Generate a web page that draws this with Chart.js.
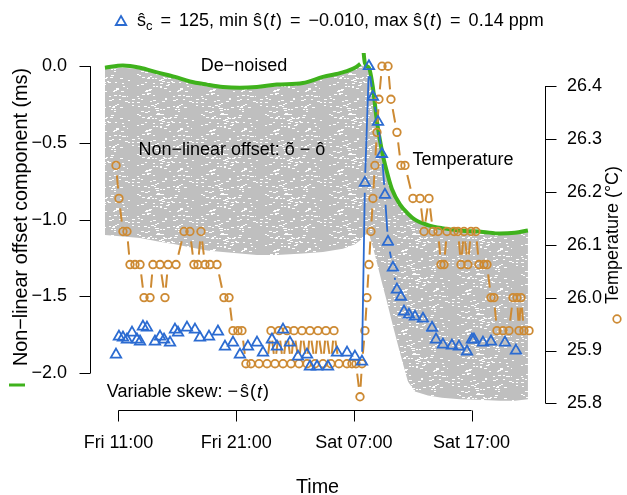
<!DOCTYPE html>
<html>
<head>
<meta charset="utf-8">
<script src="https://cdn.jsdelivr.net/npm/chart.js@4.4.0/dist/chart.umd.min.js"></script>
<style>
  html, body { margin: 0; padding: 0; background: #fff; }
  #wrap { width: 627px; height: 495px; }
</style>
</head>
<body>
<div id="wrap"><canvas id="chart" width="627" height="495"></canvas></div>
<script>
// Time is in hours from Fri 00:00
const timeTicks = [11, 21, 31, 41];
const timeLabels = ['Fri 11:00', 'Fri 21:00', 'Sat 07:00', 'Sat 17:00'];
const offsetTicks = [0, -0.5, -1, -1.5, -2];
const offsetLabels = ['0.0', '\u22120.5', '\u22121.0', '\u22121.5', '\u22122.0'];
const tempTicks = [25.8, 25.9, 26.0, 26.1, 26.2, 26.3, 26.4];
const tempLabels = ['25.8', '25.9', '26.0', '26.1', '26.2', '26.3', '26.4'];

// De-noised offset (ms); null splits the line at the jump
const deNoisedHours = [9.85, 11.38, 12.83, 14.27, 15.80, 17.07, 18.52, 19.88, 21.32, 22.76,
  24.46, 26.67, 28.37, 30.07, 31.09, 31.55, 31.60,
  31.62, 31.94, 32.28, 32.62, 32.96, 33.38, 33.81, 34.23, 34.91, 35.59,
  36.19, 37.29, 38.48, 40.01, 41.97, 43.41, 44.69, 45.79];
const deNoisedValues = [-0.01, 0.005, -0.01, -0.04, -0.07, -0.10, -0.12, -0.135, -0.14, -0.135,
  -0.12, -0.11, -0.07, -0.04, -0.01, 0.015, null,
  0.3, 0.02, -0.01, -0.14, -0.36, -0.55, -0.69, -0.80, -0.90, -0.96,
  -1.00, -1.035, -1.055, -1.07, -1.08, -1.09, -1.085, -1.07];

// Envelope of the noisy non-linear offset cloud (ms)
const cloudHours = [9.85, 11.38, 12.83, 14.27, 15.80, 17.07, 18.52, 19.88, 21.32, 22.76,
  24.46, 26.67, 28.37, 30.07, 31.09, 31.60, 31.94, 32.28, 32.62, 32.96,
  33.38, 33.81, 34.23, 34.91, 35.59, 36.19, 37.29, 38.48, 40.01, 41.97,
  43.41, 44.69, 45.79];
const cloudTop = [-0.02, -0.01, -0.02, -0.05, -0.08, -0.11, -0.13, -0.145, -0.15, -0.145,
  -0.13, -0.12, -0.08, -0.05, -0.02, 0.005, 0.0, -0.03, -0.15, -0.37,
  -0.56, -0.70, -0.81, -0.91, -0.97, -1.01, -1.045, -1.065, -1.08, -1.09,
  -1.10, -1.095, -1.08];
const cloudBottom = [-1.10, -1.11, -1.12, -1.14, -1.16, -1.18, -1.20, -1.21, -1.22, -1.23,
  -1.23, -1.22, -1.21, -1.19, -1.16, -1.13, -1.10, -1.09, -1.18, -1.28,
  -1.41, -1.535, -1.665, -1.865, -2.055, -2.12, -2.145, -2.16, -2.17, -2.175,
  -2.18, -2.18, -2.17];

// Variable skew -s(t), drawn on the offset axis
const skewHours = [10.79, 11.04, 11.38, 11.72, 12.15, 12.57, 12.83, 13.08, 13.42, 14.10,
  14.53, 14.87, 15.38, 15.80, 16.06, 16.82, 17.50, 17.92, 18.69, 19.45,
  20.05, 20.73, 21.32, 22.00, 22.77, 23.28, 24.04, 24.47, 24.98, 25.57,
  26.25, 27.02, 27.27, 27.87, 28.80, 29.57, 30.42, 31.09, 31.69,
  31.94, 32.28, 32.62, 33.05, 33.38, 33.64, 33.90, 34.32, 34.66, 35.00,
  35.26, 35.68, 36.19, 36.87, 37.64, 37.98, 38.57, 39.33, 39.93, 40.61,
  41.03, 41.20, 41.97, 42.65, 43.84, 44.77];
const skewValues = [-1.879, -1.762, -1.768, -1.781, -1.736, -1.781, -1.794, -1.697, -1.703, -1.794,
  -1.762, -1.781, -1.801, -1.716, -1.736, -1.703, -1.716, -1.768, -1.762, -1.729,
  -1.827, -1.801, -1.879, -1.827, -1.801, -1.866, -1.781, -1.827, -1.716, -1.801,
  -1.892, -1.879, -1.957, -1.957, -1.957, -1.866, -1.866, -1.892, -1.925,
  -0.76, 0.0, -0.20, -0.363, -0.572, -0.838, -1.144, -1.313, -1.456, -1.502,
  -1.599, -1.619, -1.632, -1.645, -1.704, -1.781, -1.814, -1.82, -1.827, -1.859,
  -1.781, -1.781, -1.801, -1.794, -1.801, -1.853];

// Temperature (degrees C)
const tempHours = [10.79, 11.04, 11.38, 11.72, 11.98, 12.40, 12.83, 13.17, 13.68, 13.93,
  14.53, 14.95, 15.21, 15.89, 16.57, 17.07, 17.41, 17.75, 18.01, 18.35,
  18.77, 19.37, 19.96, 20.39, 20.73, 21.15, 21.49, 21.83, 22.26, 22.94,
  23.62, 23.96, 24.30, 24.64, 24.98, 25.32, 25.66, 25.91, 26.34, 26.59,
  27.02, 27.27, 27.70, 27.95, 28.38, 28.63, 29.05, 29.31, 29.73, 30.41,
  30.84, 31.18, 31.52, 31.69, 31.94, 32.11, 32.28, 32.45, 32.62, 32.79,
  32.96, 33.13, 33.39, 33.90, 34.15, 34.66, 35.00, 35.34, 36.02, 36.62,
  36.96, 37.38, 37.72, 38.15, 38.40, 38.66, 38.91, 39.51, 39.85, 40.10,
  40.36, 40.69, 40.95, 41.37, 41.63, 42.05, 42.31, 42.65, 42.90, 43.16,
  43.67, 44.18, 44.52, 44.86, 45.03, 45.20, 45.45, 45.88];
const tempValues = [26.25, 26.1875, 26.125, 26.125, 26.0625, 26.0625, 26.0625, 26.0, 26.0, 26.0625,
  26.0625, 26.0, 26.0625, 26.0625, 26.125, 26.125, 26.0625, 26.0625, 26.125, 26.0625,
  26.0625, 26.0625, 26.0, 26.0, 25.9375, 25.9375, 25.9375, 25.875, 25.875, 25.875,
  25.875, 25.9375, 25.875, 25.9375, 25.875, 25.9375, 25.875, 25.9375, 25.875, 25.9375,
  25.875, 25.9375, 25.875, 25.9375, 25.875, 25.9375, 25.875, 25.9375, 25.875, 25.875,
  25.875, 25.875, 25.8125, 25.875, 25.9375, 26.0, 26.0625, 26.125, 26.1875, 26.25,
  26.3125, 26.375, 26.4375, 26.4375, 26.375, 26.3125, 26.25, 26.25, 26.1875, 26.1875,
  26.125, 26.1875, 26.125, 26.125, 26.0625, 26.0625, 26.125, 26.125, 26.125, 26.0625,
  26.125, 26.0625, 26.125, 26.125, 26.0625, 26.0625, 26.0625, 26.0, 26.0, 25.9375,
  25.9375, 25.9375, 26.0, 26.0, 25.9375, 26.0, 25.9375, 25.9375];

const FAMILY = '"Liberation Sans", Arial, sans-serif';
const FONT = '18px ' + FAMILY;
const FONT_LAB = '19.8px ' + FAMILY;
const FONT_IT = 'italic 18px ' + FAMILY;
const FONT_SUB = '13px ' + FAMILY;
const BLUE = '#2b6bd1';
const ORANGE = '#cd8a33';
const GREEN = '#3fb21c';

function pairs(xs, ys) {
  return xs.map((x, i) => ({ x: x, y: ys[i] }));
}

// grey cloud texture: grey tile with short white flecks placed by an integer hash
function speckle() {
  const W = 64, H = 40;
  const c = document.createElement('canvas');
  c.width = W; c.height = H;
  const g = c.getContext('2d');
  g.fillStyle = '#bfbfbf';
  g.fillRect(0, 0, W, H);
  g.fillStyle = '#ffffff';
  for (let y = 0; y < H; y++) {
    for (let x = 0; x < W; x++) {
      let h = Math.imul(x, 374761393) + Math.imul(y, 668265263);
      h = Math.imul(h ^ (h >>> 13), 1274126177);
      h = (h ^ (h >>> 16)) >>> 0;
      if (h % 100 < 4) g.fillRect(x, y, 2 + ((h >>> 8) % 2), 1);
    }
  }
  return g.createPattern(c, 'repeat');
}

// R style type="b": segments between points with a gap around each point
const gapLines = {
  id: 'gapLines',
  beforeDatasetDraw(chart, args) {
    const ds = chart.data.datasets[args.index];
    if (!ds.gapLine) return;
    const pts = args.meta.data;
    const gap = ds.gapLine.gap;
    const ctx = chart.ctx;
    ctx.save();
    ctx.strokeStyle = ds.pointBorderColor;
    ctx.lineWidth = ds.gapLine.width;
    ctx.beginPath();
    for (let i = 1; i < pts.length; i++) {
      const a = pts[i - 1], b = pts[i];
      const dx = b.x - a.x, dy = b.y - a.y;
      const d = Math.hypot(dx, dy);
      if (d <= 2 * gap) continue;
      const ux = dx / d, uy = dy / d;
      ctx.moveTo(a.x + ux * gap, a.y + uy * gap);
      ctx.lineTo(b.x - ux * gap, b.y - uy * gap);
    }
    ctx.stroke();
    ctx.restore();
  }
};

// text made of runs with their own font, vertical shift and extra left space
function drawRuns(ctx, runs, x, y, align) {
  let total = 0;
  runs.forEach(function(r) {
    ctx.font = r.f || FONT;
    r.w = ctx.measureText(r.t).width + (r.pad || 0);
    total += r.w;
  });
  let cx = align === 'center' ? x - total / 2 : x;
  ctx.textAlign = 'left';
  runs.forEach(function(r) {
    ctx.font = r.f || FONT;
    ctx.fillText(r.t, cx + (r.pad || 0), y + (r.dy || 0));
    cx += r.w;
  });
}

function triangle(ctx, x, y, r) {
  ctx.beginPath();
  ctx.moveTo(x, y - r);
  ctx.lineTo(x + r * 0.866, y + r / 2);
  ctx.lineTo(x - r * 0.866, y + r / 2);
  ctx.closePath();
  ctx.stroke();
}

// axes, labels and annotations in base-R style
const rAxes = {
  id: 'rAxes',
  afterDraw(chart) {
    const ctx = chart.ctx, a = chart.chartArea;
    const xs = chart.scales.x, ys = chart.scales.y, ts = chart.scales.yT;
    const TICK = 11;
    ctx.save();
    ctx.strokeStyle = '#000';
    ctx.fillStyle = '#000';
    ctx.lineWidth = 1;
    ctx.font = FONT;
    ctx.textBaseline = 'middle';

    // bottom axis
    const by = Math.round(a.bottom) + 0.5;
    ctx.beginPath();
    ctx.moveTo(xs.getPixelForValue(timeTicks[0]), by);
    ctx.lineTo(xs.getPixelForValue(timeTicks[timeTicks.length - 1]), by);
    timeTicks.forEach(function(t) {
      const px = Math.round(xs.getPixelForValue(t)) + 0.5;
      ctx.moveTo(px, by);
      ctx.lineTo(px, by + TICK);
    });
    ctx.stroke();
    ctx.textAlign = 'center';
    timeTicks.forEach(function(t, i) {
      ctx.fillText(timeLabels[i], xs.getPixelForValue(t), a.bottom + 33);
    });
    ctx.font = FONT_LAB;
    ctx.fillText('Time', (a.left + a.right) / 2, a.bottom + 78);
    ctx.font = FONT;

    // left axis
    const lx = Math.round(a.left) + 0.5;
    ctx.beginPath();
    ctx.moveTo(lx, ys.getPixelForValue(offsetTicks[0]));
    ctx.lineTo(lx, ys.getPixelForValue(offsetTicks[offsetTicks.length - 1]));
    offsetTicks.forEach(function(v) {
      const py = Math.round(ys.getPixelForValue(v)) + 0.5;
      ctx.moveTo(lx, py);
      ctx.lineTo(lx - TICK, py);
    });
    ctx.stroke();
    ctx.textAlign = 'right';
    offsetTicks.forEach(function(v, i) {
      ctx.fillText(offsetLabels[i], a.left - 23, ys.getPixelForValue(v));
    });

    // right axis
    const rx = Math.round(a.right) + 0.5;
    ctx.beginPath();
    ctx.moveTo(rx, ts.getPixelForValue(tempTicks[0]));
    ctx.lineTo(rx, ts.getPixelForValue(tempTicks[tempTicks.length - 1]));
    tempTicks.forEach(function(v) {
      const py = Math.round(ts.getPixelForValue(v)) + 0.5;
      ctx.moveTo(rx, py);
      ctx.lineTo(rx + TICK, py);
    });
    ctx.stroke();
    ctx.textAlign = 'left';
    tempTicks.forEach(function(v, i) {
      ctx.fillText(tempLabels[i], a.right + 22, ts.getPixelForValue(v));
    });

    // axis titles
    ctx.save();
    ctx.translate(22, 217);
    ctx.rotate(-Math.PI / 2);
    ctx.textAlign = 'center';
    ctx.font = FONT_LAB;
    ctx.fillText('Non\u2212linear offset component (ms)', 0, 0);
    ctx.restore();
    ctx.strokeStyle = GREEN;
    ctx.lineWidth = 3;
    ctx.beginPath();
    ctx.moveTo(9, 385);
    ctx.lineTo(25, 385);
    ctx.stroke();

    ctx.save();
    ctx.translate(613, 235);
    ctx.rotate(-Math.PI / 2);
    ctx.textAlign = 'center';
    ctx.fillText('Temperature (\u00b0C)', 0, 0);
    ctx.restore();
    ctx.strokeStyle = ORANGE;
    ctx.lineWidth = 1.7;
    ctx.beginPath();
    ctx.arc(617, 319, 3.8, 0, Math.PI * 2);
    ctx.stroke();

    // legend line on top
    ctx.strokeStyle = BLUE;
    ctx.lineWidth = 1.8;
    triangle(ctx, 121, 22, 6);
    ctx.fillStyle = '#000';
    drawRuns(ctx, [
      { t: '\u015d' }, { t: 'c', f: FONT_SUB, dy: 5 },
      { t: '=', pad: 8 }, { t: '125, min ', pad: 8 }, { t: '\u015d' }, { t: '(', pad: 1 }, { t: 't', f: FONT_IT, pad: 1 },
      { t: ')', pad: 1 }, { t: '=', pad: 8 }, { t: '\u22120.010, max ', pad: 8 }, { t: '\u015d' }, { t: '(', pad: 1 },
      { t: 't', f: FONT_IT, pad: 1 }, { t: ')', pad: 1 }, { t: '=', pad: 8 }, { t: '0.14 ppm', pad: 8 }
    ], 137, 21, 'left');

    // annotations placed at data coordinates
    drawRuns(ctx, [{ t: 'De\u2212noised' }], xs.getPixelForValue(21.66), ys.getPixelForValue(0.0), 'center');
    drawRuns(ctx, [{ t: 'Non\u2212linear offset: ' }, { t: '\u00f5' }, { t: ' \u2212 ' }, { t: '\u00f4' }],
      xs.getPixelForValue(20.64), ys.getPixelForValue(-0.545), 'center');
    drawRuns(ctx, [{ t: 'Temperature' }], xs.getPixelForValue(40.27), ys.getPixelForValue(-0.61), 'center');
    drawRuns(ctx, [{ t: 'Variable skew: \u2212' }, { t: '\u015d', pad: 2 }, { t: '(', pad: 1 }, { t: 't', f: FONT_IT, pad: 1 }, { t: ')', pad: 1 }],
      xs.getPixelForValue(16.9), ys.getPixelForValue(-2.126), 'center');
    ctx.restore();
  }
};

const ctx = document.getElementById('chart').getContext('2d');
const chart = new Chart(ctx, {
  type: 'line',
  data: {
    datasets: [
      {
        label: 'Variable skew',
        data: pairs(skewHours, skewValues),
        yAxisID: 'y',
        showLine: false,
        pointStyle: 'triangle',
        pointRadius: 6,
        pointBorderWidth: 1.8,
        pointBorderColor: BLUE,
        pointBackgroundColor: 'rgba(0,0,0,0)',
        gapLine: { gap: 10, width: 1.8 },
        order: 0
      },
      {
        label: 'Temperature',
        data: pairs(tempHours, tempValues),
        yAxisID: 'yT',
        showLine: false,
        pointStyle: 'circle',
        pointRadius: 3.8,
        pointBorderWidth: 1.8,
        pointBorderColor: ORANGE,
        pointBackgroundColor: 'rgba(0,0,0,0)',
        gapLine: { gap: 10, width: 2 },
        order: 1
      },
      {
        label: 'De-noised',
        data: pairs(deNoisedHours, deNoisedValues),
        yAxisID: 'y',
        borderColor: GREEN,
        borderWidth: 4,
        pointRadius: 0,
        cubicInterpolationMode: 'monotone',
        spanGaps: false,
        fill: false,
        clip: 0,
        order: 2
      },
      {
        label: 'cloud top',
        data: pairs(cloudHours, cloudTop),
        yAxisID: 'y',
        borderWidth: 0,
        pointRadius: 0,
        fill: false,
        order: 3
      },
      {
        label: 'cloud bottom',
        data: pairs(cloudHours, cloudBottom),
        yAxisID: 'y',
        borderWidth: 0,
        pointRadius: 0,
        fill: '-1',
        backgroundColor: speckle(),
        order: 4
      }
    ]
  },
  options: {
    responsive: false,
    animation: false,
    events: [],
    layout: { padding: { left: 90, right: 82, top: 53, bottom: 85 } },
    plugins: {
      legend: { display: false },
      tooltip: { enabled: false }
    },
    scales: {
      x: { type: 'linear', min: 8.58, max: 47.24, display: false },
      y: { type: 'linear', min: -2.24, max: 0.086, display: false },
      yT: { type: 'linear', position: 'right', min: 25.7875, max: 26.4625, display: false }
    }
  },
  plugins: [gapLines, rAxes]
});
</script>
</body>
</html>
